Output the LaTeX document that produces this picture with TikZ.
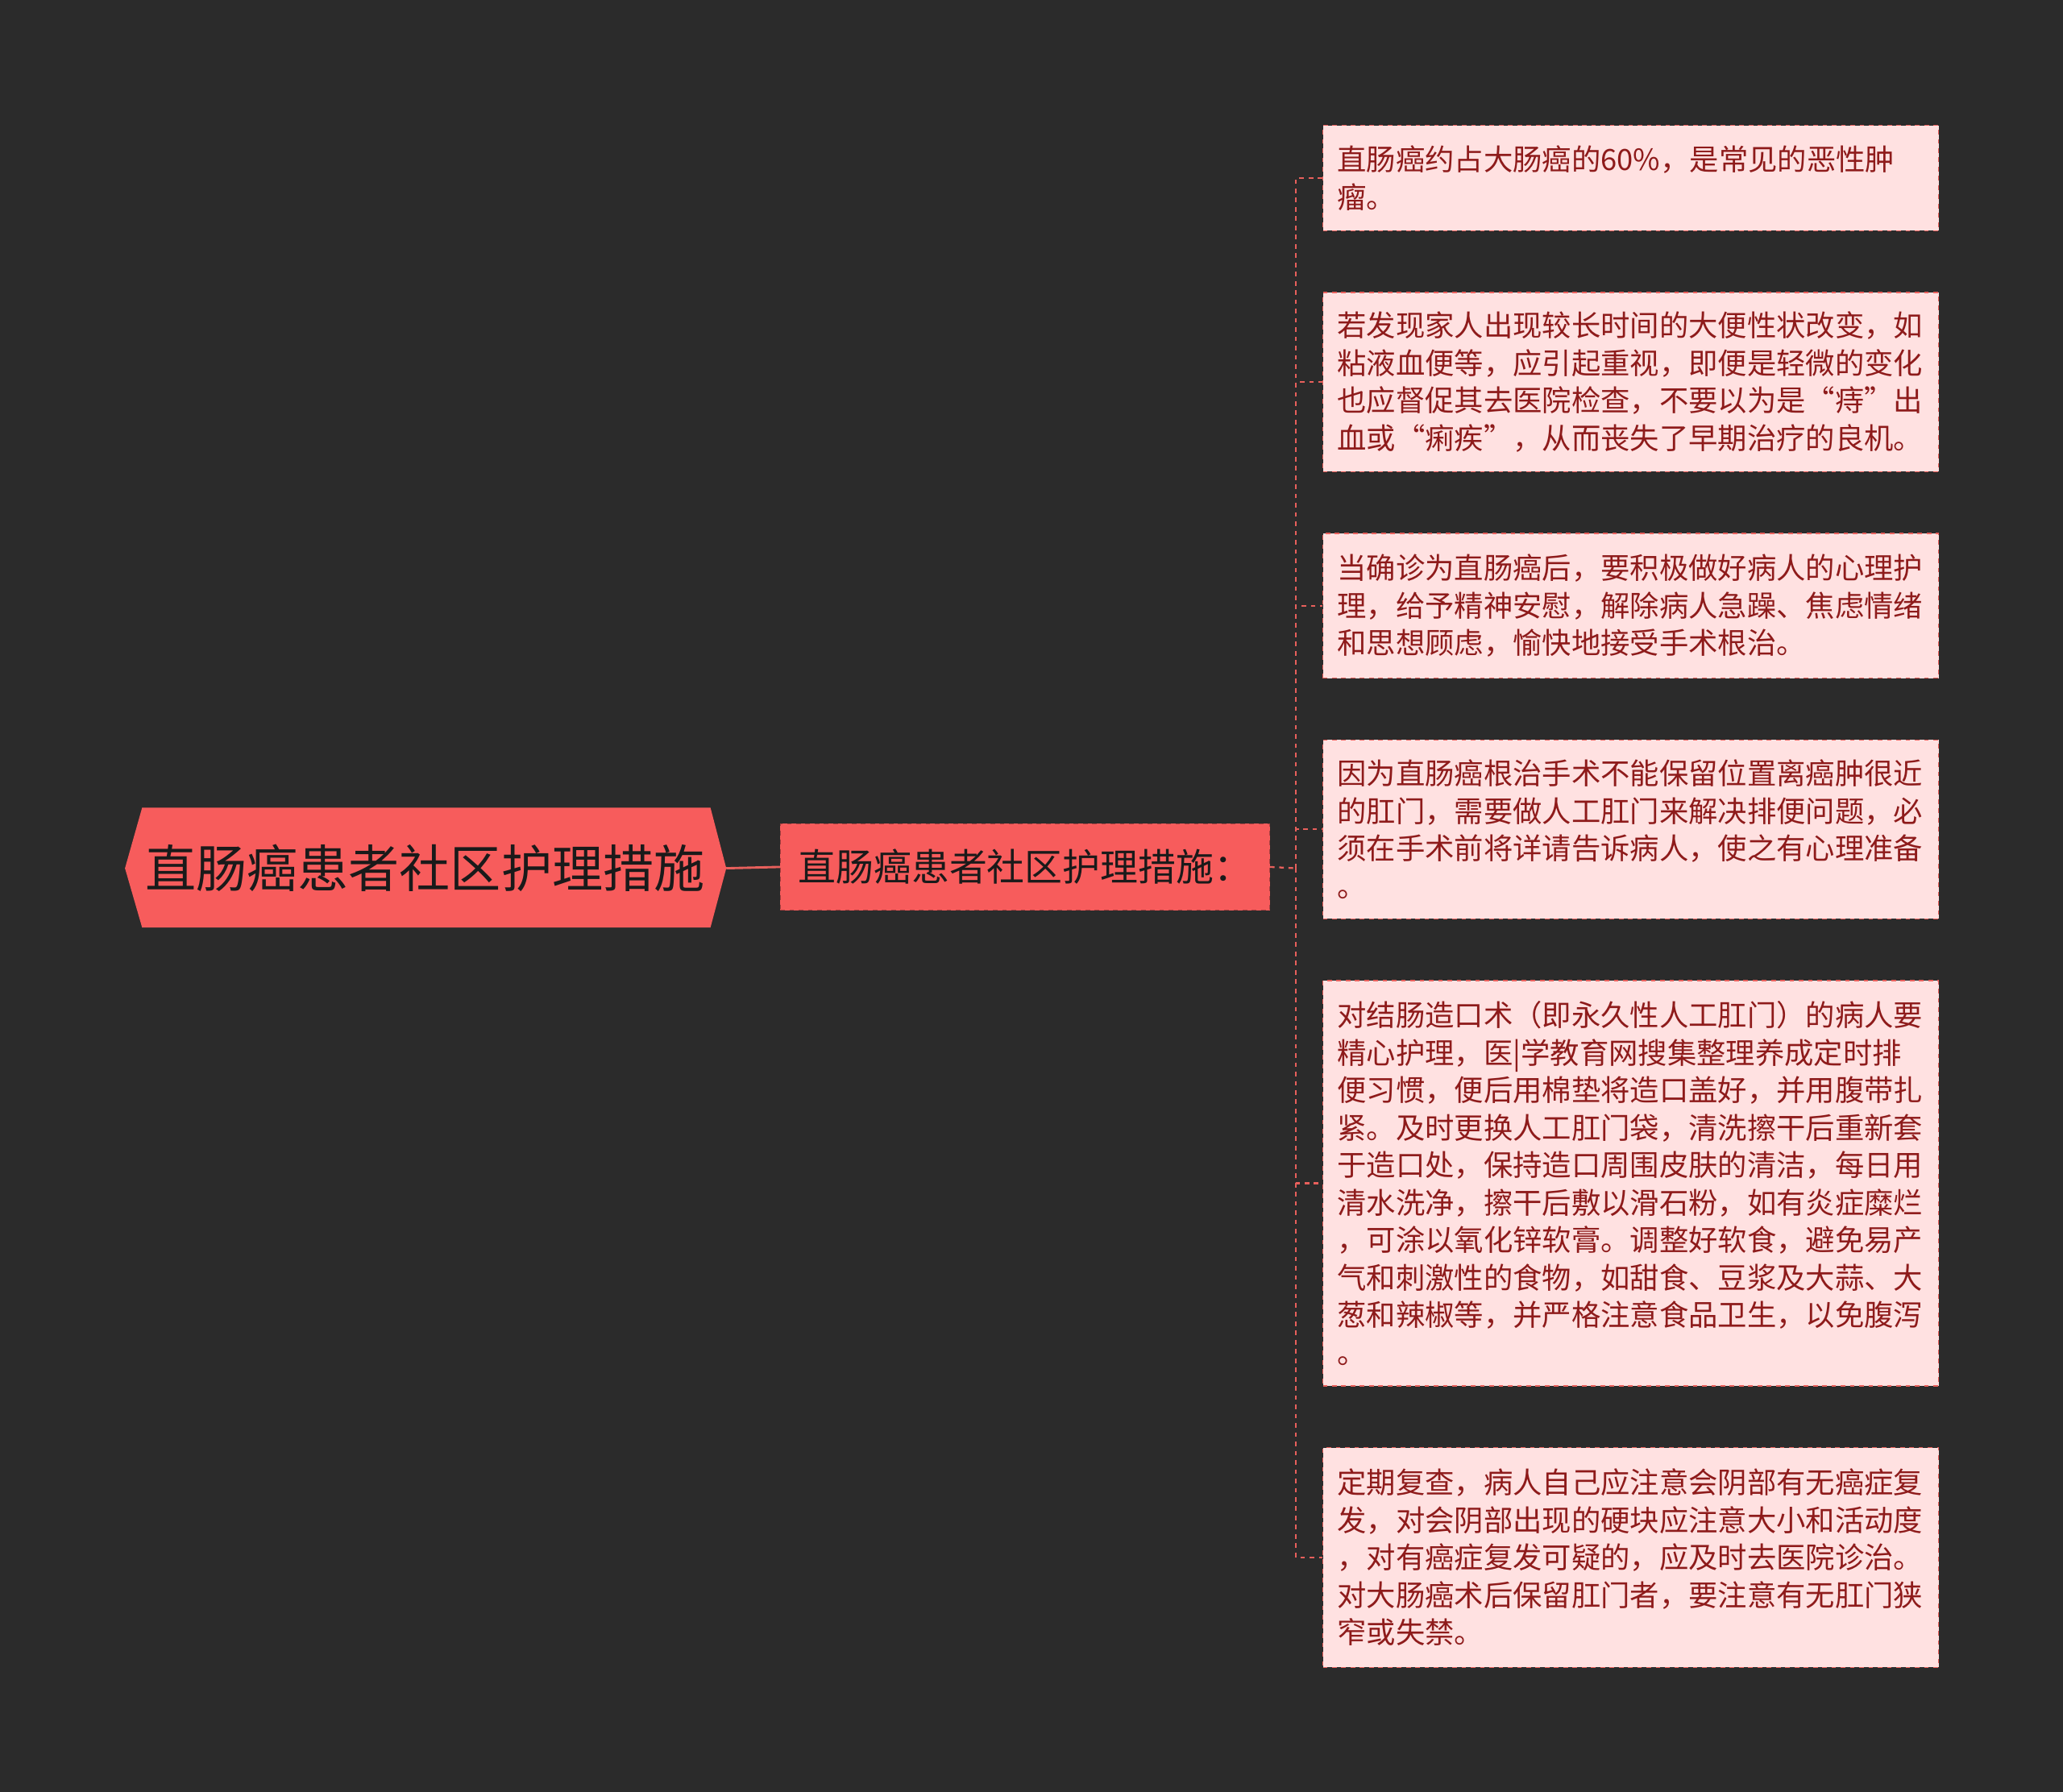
\documentclass[tikz,border=0pt]{standalone}
\usepackage{fontspec}
\setmainfont{Noto Sans CJK SC}
\definecolor{bg}{HTML}{2B2B2B}
\definecolor{red1}{HTML}{F75C5C}
\definecolor{leaffill}{HTML}{FFE1E1}
\definecolor{leaftext}{HTML}{8E1B1B}
\definecolor{edge}{HTML}{E8605C}
\begin{document}
\begin{tikzpicture}[x=0.03cm,y=-0.03cm,
  leaf/.style={draw=edge,dashed,line width=0.7pt,fill=leaffill,text=leaftext,
    font=\fontsize{19pt}{24.3pt}\selectfont,align=left,anchor=north west,
    minimum width=468*0.03cm,inner xsep=0.33cm,inner ysep=0.2cm,text width=446*0.03cm},
  conn/.style={draw=edge,dashed,line width=1.2pt}]
\fill[bg] (0,0) rectangle (1568,1362);
\fill[red1] (95,660)--(108,614)--(540,614)--(552,660)--(540,705)--(108,705)--cycle;
\node[text=bg!60!black,font=\fontsize{33pt}{38pt}\selectfont] (root) at (323,660) {直肠癌患者社区护理措施};
\coordinate (rootE) at (552,660);
\node[draw=red1!70!black,dashed,fill=red1,minimum width=372*0.03cm,minimum height=66*0.03cm,
  font=\fontsize{24.5pt}{28pt}\selectfont,text=bg!60!black] (mid) at (779,659) {直肠癌患者社区护理措施：};
\draw[edge,line width=1.5pt] (rootE) -- (mid.west);
\coordinate (hub) at (985,660);
\node[leaf,minimum height=80*0.03cm] (l1) at (1005,95) {直肠癌约占大肠癌的60\%，是常见的恶性肿\\瘤。};
\node[leaf,minimum height=136*0.03cm] (l2) at (1005,222) {若发现家人出现较长时间的大便性状改变，如\\粘液血便等，应引起重视，即便是轻微的变化\\也应督促其去医院检查，不要以为是“痔”出\\血或“痢疾”，从而丧失了早期治疗的良机。};
\node[leaf,minimum height=110*0.03cm] (l3) at (1005,405) {当确诊为直肠癌后，要积极做好病人的心理护\\理，给予精神安慰，解除病人急躁、焦虑情绪\\和思想顾虑，愉快地接受手术根治。};
\node[leaf,minimum height=136*0.03cm] (l4) at (1005,562) {因为直肠癌根治手术不能保留位置离癌肿很近\\的肛门，需要做人工肛门来解决排便问题，必\\须在手术前将详请告诉病人，使之有心理准备\\。};
\node[leaf,minimum height=308*0.03cm] (l5) at (1005,745) {对结肠造口术（即永久性人工肛门）的病人要\\精心护理，医|学教育网搜集整理养成定时排\\便习惯，便后用棉垫将造口盖好，并用腹带扎\\紧。及时更换人工肛门袋，清洗擦干后重新套\\于造口处，保持造口周围皮肤的清洁，每日用\\清水洗净，擦干后敷以滑石粉，如有炎症糜烂\\，可涂以氧化锌软膏。调整好软食，避免易产\\气和刺激性的食物，如甜食、豆浆及大蒜、大\\葱和辣椒等，并严格注意食品卫生，以免腹泻\\。};
\node[leaf,minimum height=167*0.03cm] (l6) at (1005,1100) {定期复查，病人自己应注意会阴部有无癌症复\\发，对会阴部出现的硬块应注意大小和活动度\\，对有癌症复发可疑的，应及时去医院诊治。\\对大肠癌术后保留肛门者，要注意有无肛门狭\\窄或失禁。};
\draw[conn] (mid.east) -- (hub);
\foreach \n in {l1,l2,l3,l4,l5,l6} \draw[conn] (hub) |- (\n.west);
\end{tikzpicture}
\end{document}
